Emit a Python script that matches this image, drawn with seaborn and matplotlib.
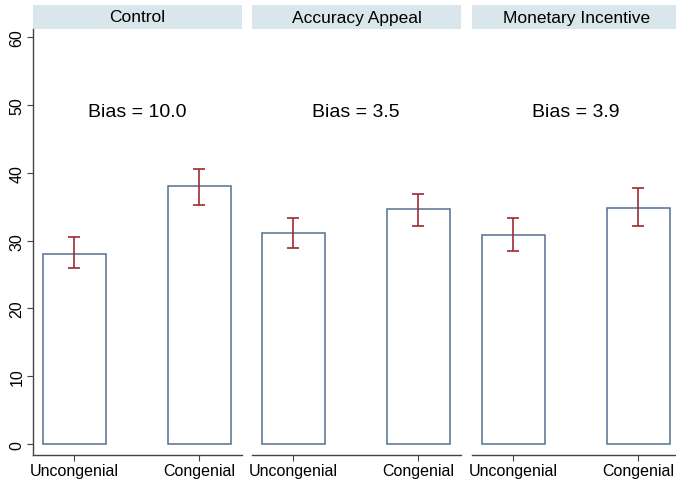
import matplotlib
matplotlib.use("Agg")
import matplotlib.pyplot as plt
import matplotlib.patches as mpatches
import seaborn as sns
import pandas as pd
import numpy as np

conditions = ["Control", "Accuracy Appeal", "Monetary Incentive"]
categories = ["Uncongenial", "Congenial"]
means = {
    "Control": [28.1, 38.1],
    "Accuracy Appeal": [31.1, 34.6],
    "Monetary Incentive": [30.8, 34.8],
}
ci_low = {
    "Control": [25.9, 35.3],
    "Accuracy Appeal": [28.9, 32.1],
    "Monetary Incentive": [28.4, 32.1],
}
ci_high = {
    "Control": [30.5, 40.5],
    "Accuracy Appeal": [33.3, 36.9],
    "Monetary Incentive": [33.3, 37.7],
}
bias_labels = ["Bias = 10.0", "Bias = 3.5", "Bias = 3.9"]
yticks = [0, 10, 20, 30, 40, 50, 60]

sns.set_style("white")
plt.rcParams["font.family"] = ["Liberation Sans", "DejaVu Sans"]
plt.rcParams["text.color"] = "black"
plt.rcParams["xtick.color"] = "black"
plt.rcParams["ytick.color"] = "black"

fig = plt.figure(figsize=(6.76, 4.85), dpi=100)
W, H = 676, 485
lefts = [33, 252, 472]
pw = 209
bottom_px, top_px = 456, 30
ah = bottom_px - top_px

bar_edge = "#52708f"
err_col = "#9e2a31"
axis_col = "#444444"
strip_col = "#d9e6ec"

for i, cond in enumerate(conditions):
    lx = lefts[i]
    ax = fig.add_axes([lx / W, 1 - bottom_px / H, pw / W, ah / H])
    df = pd.DataFrame({"cat": categories, "val": means[cond]})
    sns.barplot(data=df, x="cat", y="val", ax=ax, color="white",
                edgecolor=bar_edge, linewidth=1.1, width=0.5, errorbar=None)
    m = np.array(means[cond])
    lo = m - np.array(ci_low[cond])
    hi = np.array(ci_high[cond]) - m
    ax.errorbar(np.arange(len(categories)), m, yerr=[lo, hi], fmt="none",
                ecolor=err_col, elinewidth=1.2, capsize=4, capthick=1.2, zorder=5)
    ax.set_xlim(-0.33, 1.34)
    ax.set_ylim(-1.6, 61.2)
    ax.set_xlabel("")
    ax.set_ylabel("")
    ax.text(0.5, 49, bias_labels[i], ha="center", va="center", fontsize=14,
            color="black")
    for s in ["top", "right"]:
        ax.spines[s].set_visible(False)
    ax.spines["bottom"].set_color(axis_col)
    ax.spines["bottom"].set_linewidth(1.0)
    ax.tick_params(axis="x", length=4, width=0.8, color=axis_col, labelsize=11.5,
                   labelcolor="black", bottom=True, pad=2)
    if i == 0:
        ax.spines["left"].set_color(axis_col)
        ax.spines["left"].set_linewidth(1.0)
        ax.set_yticks(yticks)
        ax.tick_params(axis="y", length=4, width=0.8, color=axis_col, labelsize=11.5,
                       labelcolor="black", left=True, pad=2)
        for lab in ax.get_yticklabels():
            lab.set_rotation(90)
            lab.set_va("center")
    else:
        ax.spines["left"].set_visible(False)
        ax.set_yticks([])
    # strip header
    strip = mpatches.Rectangle((0, 1), 1, 24 / ah, transform=ax.transAxes,
                               facecolor=strip_col, edgecolor="none", clip_on=False)
    ax.add_patch(strip)
    ax.text(0.5, 1 + 12 / ah, cond, transform=ax.transAxes, ha="center",
            va="center", fontsize=12.5, color="black")

fig.savefig("out.png", dpi=100)
